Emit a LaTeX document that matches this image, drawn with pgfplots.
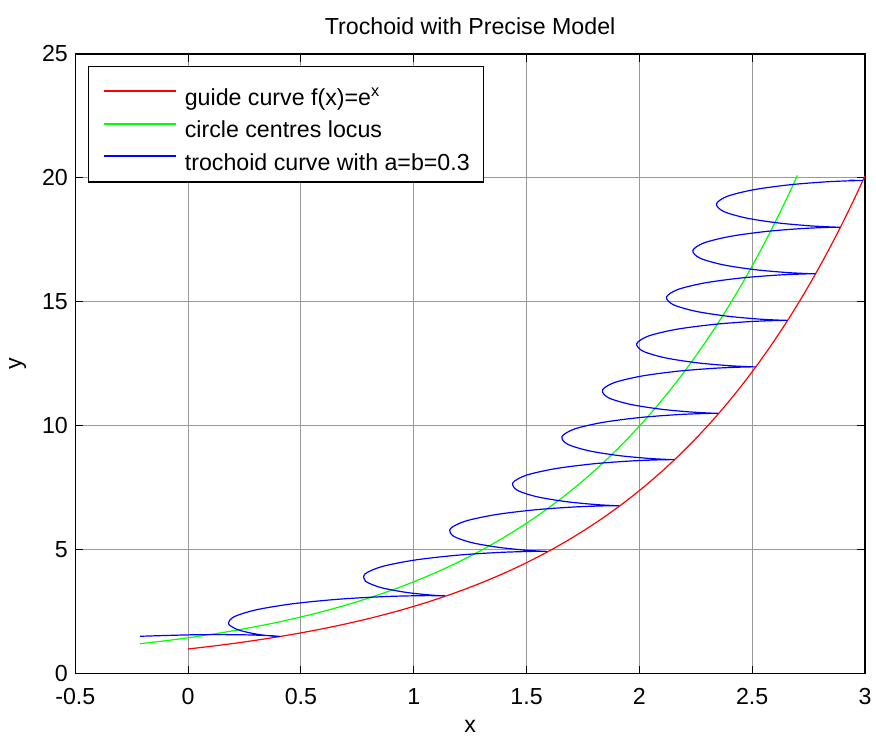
\documentclass[border=0pt]{standalone}
\usepackage{fontspec}
\setmainfont{Liberation Sans}
\usepackage{pgfplots}
\usepackage{pgfplotstable}
\pgfplotsset{compat=1.18}
\definecolor{mred}{RGB}{255,0,0}
\definecolor{mgreen}{RGB}{0,255,0}
\definecolor{mblue}{RGB}{0,0,255}
\newcommand{\myfont}{\fontsize{11.6}{13.9}\selectfont}
% guide curve (x,y) and circle centres (cx,cy)
\pgfplotstableread{
x y cx cy
0.0000 1.0000 -0.2121 1.2121
0.1080 1.1140 -0.1153 1.3144
0.2099 1.2336 -0.0231 1.4225
0.3059 1.3579 0.0644 1.5358
0.3963 1.4863 0.1474 1.6538
0.4814 1.6183 0.2262 1.7760
0.5616 1.7534 0.3010 1.9020
0.6372 1.8911 0.3720 2.0313
0.7085 2.0310 0.4394 2.1635
0.7760 2.1728 0.5035 2.2983
0.8400 2.3163 0.5646 2.4352
0.9007 2.4612 0.6227 2.5741
0.9583 2.6073 0.6782 2.7147
1.0132 2.7545 0.7312 2.8569
1.0656 2.9026 0.7820 3.0003
1.1156 3.0515 0.8305 3.1449
1.1635 3.2011 0.8771 3.2905
1.2094 3.3513 0.9219 3.4371
1.2534 3.5021 0.9649 3.5845
1.2957 3.6534 1.0063 3.7326
1.3363 3.8051 1.0462 3.8814
1.3755 3.9572 1.0847 4.0307
1.4133 4.1097 1.1218 4.1806
1.4498 4.2625 1.1578 4.3310
1.4851 4.4155 1.1925 4.4818
1.5193 4.5688 1.2262 4.6330
1.5523 4.7224 1.2588 4.7846
1.5844 4.8762 1.2905 4.9365
1.6155 5.0302 1.3212 5.0887
1.6456 5.1843 1.3511 5.2411
1.6750 5.3386 1.3801 5.3939
1.7035 5.4931 1.4083 5.5468
1.7312 5.6477 1.4358 5.7000
1.7583 5.8024 1.4626 5.8534
1.7846 5.9573 1.4888 6.0070
1.8103 6.1123 1.5142 6.1607
1.8354 6.2673 1.5391 6.3146
1.8598 6.4225 1.5634 6.4687
1.8837 6.5778 1.5871 6.6228
1.9070 6.7331 1.6103 6.7772
1.9299 6.8885 1.6330 6.9316
1.9522 7.0440 1.6552 7.0862
1.9740 7.1995 1.6769 7.2408
1.9954 7.3552 1.6981 7.3956
2.0163 7.5108 1.7190 7.5504
2.0369 7.6666 1.7394 7.7054
2.0570 7.8224 1.7594 7.8604
2.0767 7.9782 1.7790 8.0155
2.0961 8.1341 1.7983 8.1707
2.1151 8.2900 1.8172 8.3259
2.1337 8.4460 1.8358 8.4812
2.1520 8.6020 1.8540 8.6366
2.1700 8.7580 1.8719 8.7921
2.1876 8.9141 1.8895 8.9476
2.2050 9.0702 1.9068 9.1031
2.2221 9.2264 1.9238 9.2587
2.2389 9.3826 1.9405 9.4144
2.2554 9.5388 1.9570 9.5700
2.2716 9.6950 1.9732 9.7258
2.2876 9.8513 1.9891 9.8816
2.3033 10.0076 2.0048 10.0374
2.3188 10.1639 2.0203 10.1932
2.3341 10.3202 2.0355 10.3491
2.3491 10.4766 2.0505 10.5051
2.3640 10.6329 2.0653 10.6610
2.3786 10.7893 2.0798 10.8170
2.3930 10.9458 2.0942 10.9731
2.4071 11.1022 2.1084 11.1291
2.4211 11.2587 2.1223 11.2852
2.4349 11.4151 2.1361 11.4413
2.4486 11.5716 2.1497 11.5975
2.4620 11.7281 2.1631 11.7536
2.4752 11.8846 2.1763 11.9098
2.4883 12.0412 2.1894 12.0660
2.5013 12.1977 2.2023 12.2222
2.5140 12.3543 2.2150 12.3785
2.5266 12.5109 2.2276 12.5348
2.5390 12.6675 2.2400 12.6911
2.5513 12.8240 2.2522 12.8474
2.5635 12.9807 2.2643 13.0037
2.5755 13.1373 2.2763 13.1601
2.5873 13.2939 2.2882 13.3164
2.5990 13.4506 2.2998 13.4728
2.6106 13.6072 2.3114 13.6292
2.6220 13.7639 2.3228 13.7856
2.6334 13.9205 2.3341 13.9420
2.6446 14.0772 2.3453 14.0985
2.6556 14.2339 2.3564 14.2549
2.6666 14.3906 2.3673 14.4114
2.6774 14.5473 2.3781 14.5679
2.6881 14.7040 2.3888 14.7244
2.6987 14.8608 2.3994 14.8809
2.7092 15.0175 2.4099 15.0374
2.7196 15.1742 2.4202 15.1939
2.7299 15.3310 2.4305 15.3505
2.7400 15.4877 2.4407 15.5070
2.7501 15.6445 2.4507 15.6636
2.7601 15.8012 2.4607 15.8202
2.7700 15.9580 2.4705 15.9768
2.7797 16.1148 2.4803 16.1334
2.7894 16.2716 2.4900 16.2900
2.7990 16.4283 2.4996 16.4466
2.8085 16.5851 2.5091 16.6032
2.8179 16.7419 2.5185 16.7598
2.8272 16.8987 2.5278 16.9165
2.8365 17.0555 2.5370 17.0731
2.8456 17.2124 2.5461 17.2298
2.8547 17.3692 2.5552 17.3864
2.8637 17.5260 2.5642 17.5431
2.8726 17.6828 2.5731 17.6998
2.8814 17.8397 2.5819 17.8565
2.8902 17.9965 2.5906 18.0131
2.8989 18.1533 2.5993 18.1698
2.9075 18.3102 2.6079 18.3265
2.9160 18.4670 2.6164 18.4833
2.9244 18.6239 2.6249 18.6400
2.9328 18.7807 2.6333 18.7967
2.9412 18.9376 2.6416 18.9534
2.9494 19.0945 2.6498 19.1102
2.9576 19.2513 2.6580 19.2669
2.9657 19.4082 2.6661 19.4236
2.9737 19.5651 2.6741 19.5804
2.9817 19.7219 2.6821 19.7371
2.9897 19.8788 2.6900 19.8939
2.9975 20.0357 2.6979 20.0507
3.0000 20.0855 2.7004 20.1005
}\guide
% trochoid points, split at the cusps
\pgfplotstableread{
px py
-0.2121 1.5121
0.0347 1.5743
0.2367 1.5725
0.3644 1.5358
0.4072 1.5038
nan nan
0.4072 1.5038
0.3762 1.5162
0.3010 1.6020
0.2220 1.7715
0.1796 2.0135
0.2035 2.2983
0.3047 2.5852
0.4727 2.8339
0.6782 3.0147
0.8812 3.1167
1.0418 3.1503
1.1305 3.1449
1.1370 3.1405
nan nan
1.1370 3.1405
1.0719 3.1773
0.9649 3.2845
0.8563 3.4728
0.7864 3.7314
0.7847 4.0307
0.8620 4.3306
1.0078 4.5908
1.1925 4.7818
1.3762 4.8928
1.5186 4.9346
1.5905 4.9365
nan nan
1.5905 4.9365
1.5810 4.9387
1.5011 4.9813
1.3801 5.0939
1.2583 5.2870
1.1760 5.5500
1.1626 5.8534
1.2290 6.1570
1.3642 6.4205
1.5391 6.6146
1.7134 6.7285
1.8469 6.7728
1.9103 6.7772
nan nan
1.9103 6.7772
1.8928 6.7816
1.8052 6.8263
1.6769 6.9408
1.5481 7.1358
1.4592 7.4004
1.4394 7.7054
1.4996 8.0104
1.6290 8.2753
1.7983 8.4707
1.9672 8.5857
2.0956 8.6312
2.1540 8.6366
nan nan
2.1540 8.6366
2.1317 8.6421
2.0395 8.6878
1.9068 8.8031
1.7738 8.9989
1.6807 9.2644
1.6570 9.5700
1.7134 9.8758
1.8391 10.1414
2.0048 10.3374
2.1703 10.4531
2.2953 10.4991
2.3505 10.5051
nan nan
2.3505 10.5051
2.3251 10.5110
2.2298 10.5572
2.0942 10.6731
1.9584 10.8693
1.8625 11.1352
1.8361 11.4413
1.8899 11.7475
2.0131 12.0134
2.1763 12.2098
2.3394 12.3258
2.4621 12.3722
2.5150 12.3785
nan nan
2.5150 12.3785
2.4874 12.3848
2.3900 12.4313
2.2522 12.5474
2.1143 12.7439
2.0165 13.0101
1.9882 13.3164
2.0400 13.6228
2.1614 13.8890
2.3228 14.0856
2.4841 14.2018
2.6051 14.2485
2.6564 14.2549
nan nan
2.6564 14.2549
2.6271 14.2614
2.5281 14.3081
2.3888 14.4244
2.2494 14.6211
2.1501 14.8874
2.1202 15.1939
2.1707 15.5005
2.2907 15.7668
2.4507 15.9636
2.6107 16.0800
2.7304 16.1268
2.7803 16.1334
nan nan
2.7803 16.1334
2.7498 16.1400
2.6496 16.1868
2.5091 16.3032
2.3685 16.5000
2.2680 16.7665
2.2370 17.0731
2.2863 17.3798
2.4052 17.6462
2.5642 17.8431
2.7231 17.9596
2.8417 18.0065
2.8906 18.0131
nan nan
2.8906 18.0131
2.8591 18.0198
2.7579 18.0667
2.6164 18.1833
2.4749 18.3802
2.3735 18.6467
2.3416 18.9534
2.3900 19.2602
2.5080 19.5267
2.6661 19.7236
2.8241 19.8402
2.9419 19.8871
2.9900 19.8939
nan nan
2.9900 19.8939
2.9577 19.9007
2.9318 19.9095
}\troch
\begin{document}
\begin{tikzpicture}
\begin{axis}[
  name=ax,
  width=395pt, height=310pt, scale only axis,
  xmin=-0.5, xmax=3, ymin=0, ymax=25,
  xtick={-0.5,0,0.5,1,1.5,2,2.5,3},
  xticklabels={-0.5,0,0.5,1,1.5,2,2.5,3},
  ytick={0,5,10,15,20,25},
  yticklabels={0,5,10,15,20,25},
  tick align=inside, tick pos=both,
  major tick length=4pt,
  tick style={black, line width=0.5pt},
  axis line style={black, line width=0.6pt},
  grid=major,
  major grid style={line width=0.5pt, color=black!40},
  tick label style={font=\myfont},
  xticklabel style={anchor=base, yshift=-15.5pt},
  yticklabel style={anchor=east, xshift=-0.2pt},
  label style={font=\myfont},
  title style={font=\myfont, at={(axis description cs:0.5,1)}, anchor=base, yshift=3.65pt},
  title={Trochoid with Precise Model},
  xlabel={x},
  xlabel style={at={(axis description cs:0.5,0)}, anchor=base, yshift=-29.5pt},
  ylabel={y},
  ylabel style={at={(axis description cs:0,0.5)}, anchor=base, yshift=27pt},
  legend cell align=left,
  legend image code/.code={\draw[#1, line width=1pt] (0pt,0.25pt) -- (36pt,0.25pt);},
  legend style={font=\myfont, at={(axis description cs:0.01646,0.9811)}, anchor=north west,
    draw=black, line width=0.6pt, fill=white,
    inner xsep=7pt, inner ysep=5.85pt, row sep=2.6pt,
    nodes={inner sep=0pt, text height=13.65pt, text depth=0pt},
    /tikz/every odd column/.append style={column sep=4pt}},
]
\addplot[mred, line width=0.6pt, smooth] table[x=x, y=y] {\guide};
\addlegendentry{guide curve f(x)=e\textsuperscript{x}}
\addplot[mgreen, line width=0.6pt, smooth] table[x=cx, y=cy] {\guide};
\addlegendentry{circle centres locus}
\addplot[mblue, line width=0.6pt, smooth, unbounded coords=jump] table[x=px, y=py] {\troch};
\addlegendentry{trochoid curve with a=b=0.3}
\end{axis}
\pgfresetboundingbox
\path ([xshift=-37.65pt,yshift=-31pt]ax.south west) rectangle ([xshift=5.5pt,yshift=27pt]ax.north east);
\end{tikzpicture}
\end{document}
